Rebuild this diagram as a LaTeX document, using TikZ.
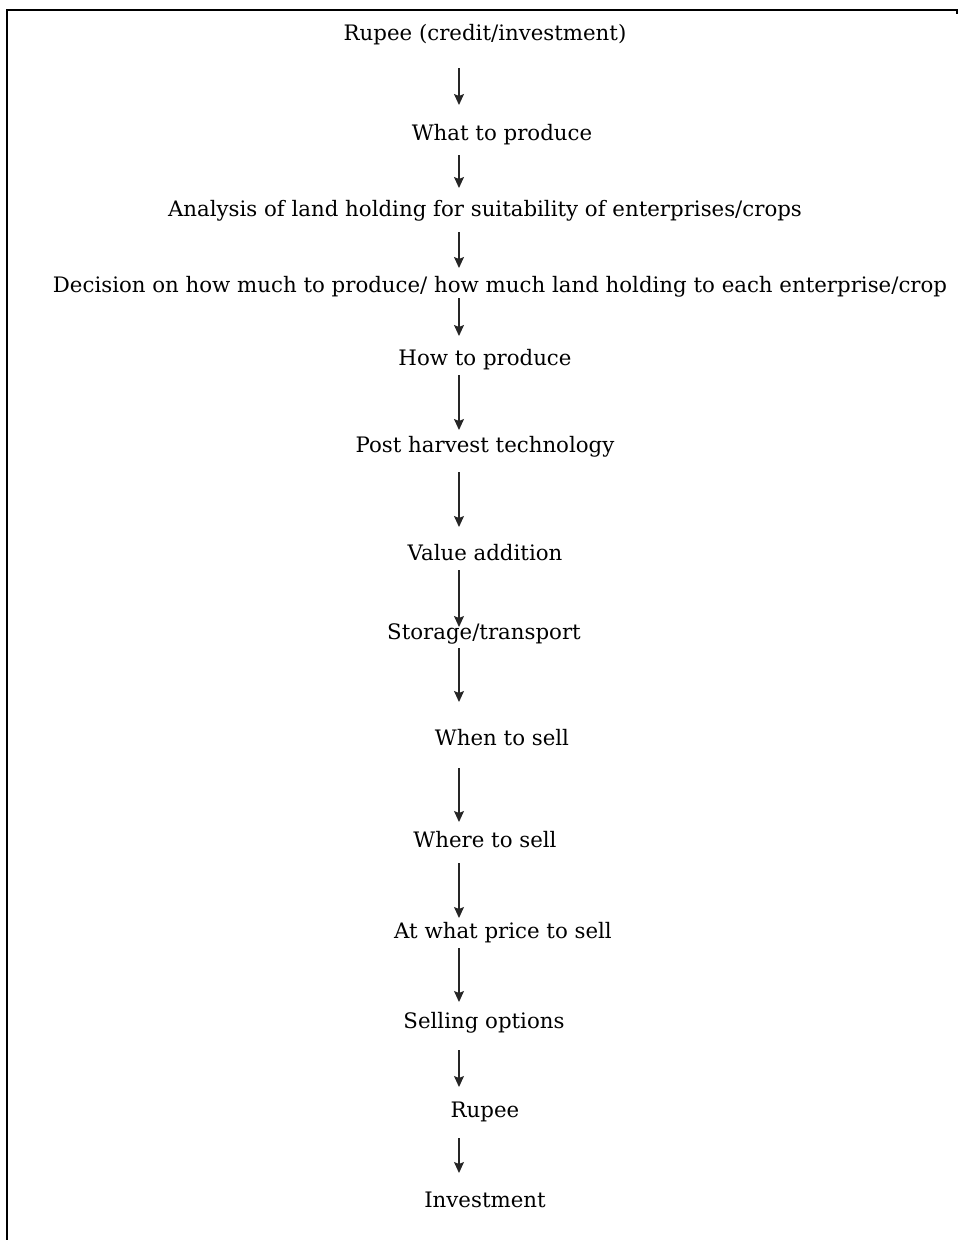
\documentclass[tikz,border=0pt]{standalone}
\usepackage{fontspec}
\setmainfont{DejaVu Serif}
\usetikzlibrary{arrows.meta}
\begin{document}
\begin{tikzpicture}[x=1pt,y=-1pt,
  step label/.style={inner sep=0pt,font=\fontsize{21.3}{25}\selectfont,text=black},
  flow/.style={draw=black!85,line width=1.3pt,-{Stealth[length=11pt,width=10pt,inset=2pt]}}]
\useasboundingbox (0,0) rectangle (958,1240);
% frame
\draw[line width=2pt] (7,1240) -- (7,10) -- (957,10) -- (957,14);
% axis of the arrows
\coordinate (ax) at (459,0);
% steps
\node[step label] (n1)  at (485,35)   {Rupee (credit/investment)};
\node[step label] (n2)  at (502,135)  {What to produce};
\node[step label] (n3)  at (485,211)  {Analysis of land holding for suitability of enterprises/crops};
\node[step label] (n4)  at (500,287)  {Decision on how much to produce/ how much land holding to each enterprise/crop};
\node[step label] (n5)  at (485,360)  {How to produce};
\node[step label] (n6)  at (485,447)  {Post harvest technology};
\node[step label] (n7)  at (485,553)  {Value addition};
\node[step label] (n8)  at (484,634)  {Storage/transport};
\node[step label] (n9)  at (502,738)  {When to sell};
\node[step label] (n10) at (485,840)  {Where to sell};
\node[step label] (n11) at (503,933)  {At what price to sell};
\node[step label] (n12) at (484,1023) {Selling options};
\node[step label] (n13) at (485,1112) {Rupee};
\node[step label] (n14) at (485,1200) {Investment};
% arrows
\draw[flow,shorten <=33pt,shorten >=30pt] (n1 -| ax) -- (n2 -| ax);
\draw[flow,shorten <=20pt,shorten >=23pt] (n2 -| ax) -- (n3 -| ax);
\draw[flow,shorten <=21pt,shorten >=19pt] (n3 -| ax) -- (n4 -| ax);
\draw[flow,shorten <=11pt,shorten >=24pt] (n4 -| ax) -- (n5 -| ax);
\draw[flow,shorten <=15pt,shorten >=17pt] (n5 -| ax) -- (n6 -| ax);
\draw[flow,shorten <=25pt,shorten >=26pt] (n6 -| ax) -- (n7 -| ax);
\draw[flow,shorten <=17pt,shorten >=7pt]  (n7 -| ax) -- (n8 -| ax);
\draw[flow,shorten <=14pt,shorten >=36pt] (n8 -| ax) -- (n9 -| ax);
\draw[flow,shorten <=30pt,shorten >=18pt] (n9 -| ax) -- (n10 -| ax);
\draw[flow,shorten <=23pt,shorten >=15pt] (n10 -| ax) -- (n11 -| ax);
\draw[flow,shorten <=15pt,shorten >=21pt] (n11 -| ax) -- (n12 -| ax);
\draw[flow,shorten <=27pt,shorten >=25pt] (n12 -| ax) -- (n13 -| ax);
\draw[flow,shorten <=26pt,shorten >=27pt] (n13 -| ax) -- (n14 -| ax);
\end{tikzpicture}
\end{document}
